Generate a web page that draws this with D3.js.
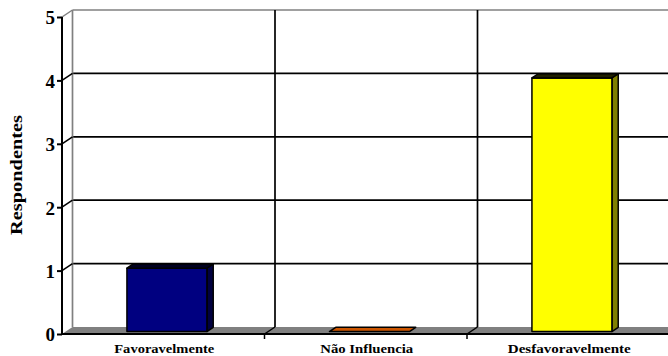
<!DOCTYPE html>
<html>
<head>
<meta charset="utf-8">
<script src="https://cdn.jsdelivr.net/npm/d3@7"></script>
<style>
  html, body { margin: 0; padding: 0; background: #fff; }
  svg { display: block; }
  text { font-family: "Liberation Serif", "Times New Roman", serif; font-weight: bold; fill: #000; }
</style>
</head>
<body>
<svg id="chart" width="668" height="356"></svg>
<script>
// ---- data ----
const categories = ["Favoravelmente", "Não Influencia", "Desfavoravelmente"];
const values = [1, 0, 4];
const yTicks = [0, 1, 2, 3, 4, 5];
const yTitle = "Respondentes";

// ---- styles ----
const frontColors = ["#000080", "#CC5500", "#FFFF00"];
const sideColors = ["#000040", "#662a00", "#808000"];
const topColors = ["#000020", "#CC5500", "#202000"];
const labelWidths = [100, 93, 123];

const svg = d3.select("#chart");
const W = 668, H = 356;
const x0 = 62, bandW = 202.5;
const DX = 10.5, DY = -7;          // depth offset of back wall
const f1 = 0.35, f2 = 0.95;        // bar depth fractions

const x = d3.scaleBand().domain(categories).range([x0, x0 + bandW * categories.length]).paddingInner(0).paddingOuter(0);
const y = d3.scaleLinear().domain([0, 5]).range([334, 17]);

const g = svg.append("g");

// back wall horizontal gridlines
yTicks.forEach(t => {
  if (t === 0) return;
  g.append("line")
    .attr("x1", x0 + DX).attr("x2", W + 12)
    .attr("y1", y(t) + DY).attr("y2", y(t) + DY)
    .attr("stroke", t === 5 ? "#808080" : "#000").attr("stroke-width", 1.7);
});
// back wall vertical gridlines
categories.slice(1).forEach(c => {
  g.append("line")
    .attr("x1", x(c) + DX).attr("x2", x(c) + DX)
    .attr("y1", y(5) + DY).attr("y2", y(0) + DY)
    .attr("stroke", "#000").attr("stroke-width", 1.7);
});
// back wall left edge
g.append("line")
  .attr("x1", x0 + DX).attr("x2", x0 + DX)
  .attr("y1", y(5) + DY).attr("y2", y(0) + DY)
  .attr("stroke", "#808080").attr("stroke-width", 1.7);

// left wall diagonals
yTicks.forEach(t => {
  if (t === 0) return;
  g.append("line")
    .attr("x1", x0).attr("x2", x0 + DX)
    .attr("y1", y(t)).attr("y2", y(t) + DY)
    .attr("stroke", t === 5 ? "#808080" : "#000").attr("stroke-width", 1.5);
});

// floor
const xEnd = x0 + bandW * categories.length;
g.append("polygon")
  .attr("points", [[x0, y(0)], [x0 + DX, y(0) + DY], [xEnd + DX, y(0) + DY], [xEnd, y(0)]].map(p => p.join(",")).join(" "))
  .attr("fill", "#808080");

// category ticks
categories.slice(1).forEach(c => {
  g.append("line")
    .attr("x1", x(c)).attr("x2", x(c) + DX)
    .attr("y1", y(0)).attr("y2", y(0) + DY)
    .attr("stroke", "#000").attr("stroke-width", 1.5);
  g.append("line")
    .attr("x1", x(c)).attr("x2", x(c))
    .attr("y1", y(0)).attr("y2", y(0) + 5)
    .attr("stroke", "#000").attr("stroke-width", 1.5);
});

// bars
const barW = bandW * 0.395;
categories.forEach((c, i) => {
  const v = values[i];
  const cx = x(c) + x.bandwidth() / 2;
  const fx = cx - barW / 2 + DX * f1, fy0 = y(0) + DY * f1, fyT = y(v) + DY * f1;
  const ddx = DX * (f2 - f1), ddy = DY * (f2 - f1);
  const bg = g.append("g").attr("stroke", "#000").attr("stroke-width", 1.5).attr("stroke-linejoin", "round");
  if (v > 0) {
    bg.append("polygon")
      .attr("points", [[fx + barW, fy0], [fx + barW + ddx, fy0 + ddy], [fx + barW + ddx, fyT + ddy], [fx + barW, fyT]].map(p => p.join(",")).join(" "))
      .attr("fill", sideColors[i]);
    bg.append("rect")
      .attr("x", fx).attr("y", fyT).attr("width", barW).attr("height", fy0 - fyT)
      .attr("fill", frontColors[i]);
  }
  bg.append("polygon")
    .attr("points", [[fx, fyT], [fx + ddx, fyT + ddy], [fx + barW + ddx, fyT + ddy], [fx + barW, fyT]].map(p => p.join(",")).join(" "))
    .attr("fill", topColors[i]);
});

// front axis lines
g.append("line").attr("x1", x0).attr("x2", W).attr("y1", y(0)).attr("y2", y(0))
  .attr("stroke", "#000").attr("stroke-width", 2);
g.append("line").attr("x1", x0).attr("x2", x0).attr("y1", y(5)).attr("y2", y(0))
  .attr("stroke", "#000").attr("stroke-width", 2);

// y axis ticks + labels
const yAxis = d3.axisLeft(y).tickValues(yTicks).tickSize(5).tickPadding(2).tickFormat(d3.format("d"));
const ya = svg.append("g").attr("transform", `translate(${x0},0)`).call(yAxis);
ya.select(".domain").remove();
ya.selectAll(".tick line").attr("stroke", "#000").attr("stroke-width", 2);
ya.selectAll(".tick text")
  .style("font-family", '"Liberation Serif", "Times New Roman", serif')
  .style("font-weight", "bold").style("font-size", "19px").attr("fill", "#000").attr("dy", "0.36em");

// x labels
categories.forEach((c, i) => {
  svg.append("text")
    .attr("x", x(c) + x.bandwidth() / 2 + 1).attr("y", 353)
    .attr("text-anchor", "middle")
    .attr("font-size", 13.5)
    .attr("textLength", labelWidths[i]).attr("lengthAdjust", "spacingAndGlyphs")
    .text(c);
});

// y title
svg.append("text")
  .attr("transform", "translate(22,175) rotate(-90)")
  .attr("text-anchor", "middle")
  .attr("font-size", 17)
  .attr("textLength", 120).attr("lengthAdjust", "spacingAndGlyphs")
  .text(yTitle);
</script>
</body>
</html>
